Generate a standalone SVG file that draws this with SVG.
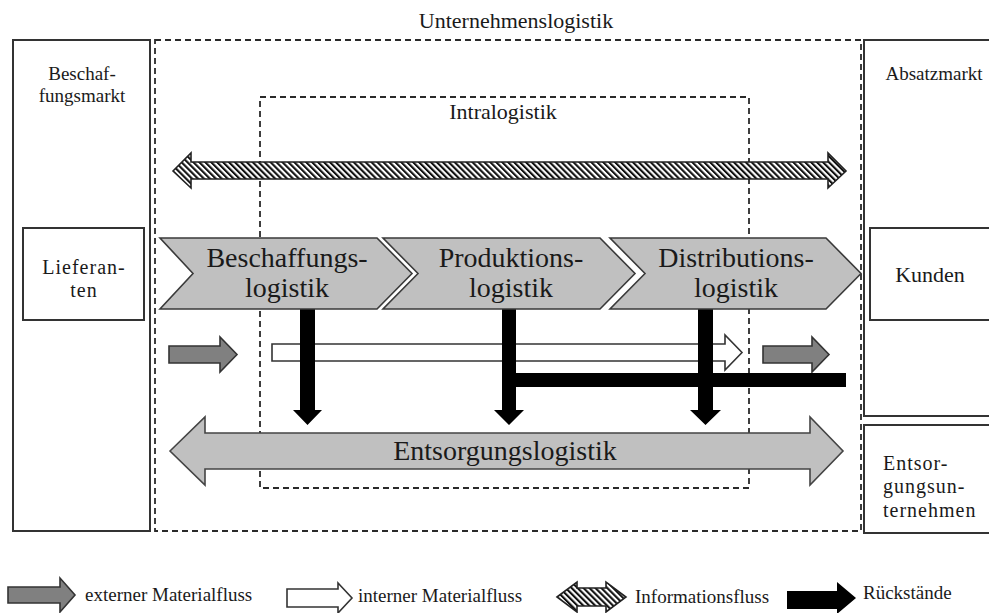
<svg xmlns="http://www.w3.org/2000/svg" width="989" height="613" viewBox="0 0 989 613" font-family="'Liberation Serif', 'DejaVu Serif', 'Times New Roman', serif">
<defs>
<pattern id="hatch" patternUnits="userSpaceOnUse" width="4.2" height="4.2" patternTransform="rotate(-45)">
<rect x="0" y="0" width="4.2" height="4.2" fill="#ffffff"/>
<rect x="0" y="0" width="2.1" height="4.2" fill="#111111"/>
</pattern>
</defs>
<style>
text{font-family:'Liberation Serif','DejaVu Serif','Times New Roman',serif;fill:#1a1a1a}
.box{fill:#ffffff;stroke:#333333;stroke-width:2}
.dash{fill:none;stroke:#2a2a2a;stroke-width:1.8;stroke-dasharray:6 4}
.chev{fill:#c0c0c0;stroke:#3a3a3a;stroke-width:1.6}
.ext{fill:#808080;stroke:#333333;stroke-width:1.6}
.int{fill:#ffffff;stroke:#333333;stroke-width:1.6}
.info{fill:url(#hatch);stroke:#222222;stroke-width:1.6}
.res{fill:#000000;stroke:none}
.ent{fill:#c0c0c0;stroke:#444444;stroke-width:1.6}
.t28{font-size:28px;text-anchor:middle}
.t22{font-size:22px;text-anchor:middle}
.t19{font-size:19px}
.leg{font-size:19px}
</style>
<rect width="989" height="613" fill="#ffffff"/>

<g id="beschaffungsmarkt">
<rect class="box" x="13" y="40" width="137" height="491"/>
<text class="t19" x="82" y="80" text-anchor="middle">Beschaf-</text>
<text class="t19" x="82" y="102" text-anchor="middle">fungsmarkt</text>
</g>
<g id="lieferanten">
<rect class="box" x="23" y="228" width="121" height="92"/>
<text x="84" y="274" style="font-size:20px;letter-spacing:1px" text-anchor="middle">Lieferan-</text>
<text x="84" y="297" style="font-size:20px;letter-spacing:1px" text-anchor="middle">ten</text>
</g>

<g id="unternehmenslogistik">
<rect class="dash" x="155" y="40" width="706" height="491"/>
<text class="t22" x="516" y="28">Unternehmenslogistik</text>
</g>
<g id="intralogistik">
<rect class="dash" x="260" y="97" width="489" height="391"/>
<text class="t22" x="503" y="119">Intralogistik</text>
</g>

<g id="absatzmarkt">
<rect class="box" x="864" y="40" width="135" height="376"/>
<text class="t19" x="934" y="80" text-anchor="middle">Absatzmarkt</text>
</g>
<g id="kunden">
<rect class="box" x="870" y="228" width="129" height="92"/>
<text x="930" y="282" style="font-size:22px" text-anchor="middle">Kunden</text>
</g>
<g id="entsorgungsunternehmen">
<rect class="box" x="864" y="425" width="135" height="108"/>
<text x="883" y="470" style="font-size:20px;letter-spacing:1px">Entsor-</text>
<text x="883" y="493" style="font-size:20px;letter-spacing:1px">gungsun-</text>
<text x="883" y="517" style="font-size:20px;letter-spacing:1px">ternehmen</text>
</g>

<g id="connectors">
<polygon class="info" points="173,171 191,153 191,162 828,162 828,153 846,171 828,188 828,179 191,179 191,188"/>
<polygon class="ext" points="169,346 220,346 220,337 237,354.5 220,372 220,363 169,363"/>
<polygon class="ext" points="763,346 812,346 812,337 829,354.5 812,372 812,363 763,363"/>
<polygon class="int" points="272,344 725,344 725,335 742,352.5 725,370 725,361 272,361"/>
<polygon class="res" points="300,306 315,306 315,410 322,410 307.5,425 293,410 300,410"/>
<polygon class="res" points="502,306 516,306 516,410 524,410 509,425 494,410 502,410"/>
<polygon class="res" points="698,306 713,306 713,410 721,410 705.5,425 690,410 698,410"/>
<rect class="res" x="502" y="373" width="344" height="14"/>
</g>

<g id="entsorgungslogistik">
<polygon class="ent" points="170,451 205,417 205,433 810,433 810,417 843,451 810,485 810,469 205,469 205,485"/>
<text class="t28" x="505" y="460">Entsorgungslogistik</text>
</g>

<g id="beschaffungslogistik">
<polygon class="chev" points="160,238 377,238 412,273.5 377,309 160,309 193,273.5"/>
<text class="t28" x="287" y="267">Beschaffungs-</text>
<text class="t28" x="287" y="297">logistik</text>
</g>
<g id="produktionslogistik">
<polygon class="chev" points="383,238 600,238 635,273.5 600,309 383,309 418,273.5"/>
<text class="t28" x="511" y="267">Produktions-</text>
<text class="t28" x="511" y="297">logistik</text>
</g>
<g id="distributionslogistik">
<polygon class="chev" points="610,238 826,238 861,273.5 826,309 610,309 645,273.5"/>
<text class="t28" x="736" y="267">Distributions-</text>
<text class="t28" x="736" y="297">logistik</text>
</g>

<g id="legend">
<polygon class="ext" points="8,587 60,587 60,578 75,595 60,612 60,603 8,603"/>
<text class="leg" x="85" y="601">externer Materialfluss</text>
<polygon class="int" points="287,589 338,589 338,583 352,598 338,613 338,607 287,607"/>
<text class="leg" x="358" y="602">interner Materialfluss</text>
<polygon class="info" points="557,597 577,582 577,588 606,588 606,582 626,597 606,612 606,606 577,606 577,612"/>
<text class="leg" x="635" y="603">Informationsfluss</text>
<polygon class="res" points="787,591 837,591 837,582 856,598 837,614 837,609 787,609"/>
<text class="leg" x="863" y="599">Rückstände</text>
</g>
</svg>
